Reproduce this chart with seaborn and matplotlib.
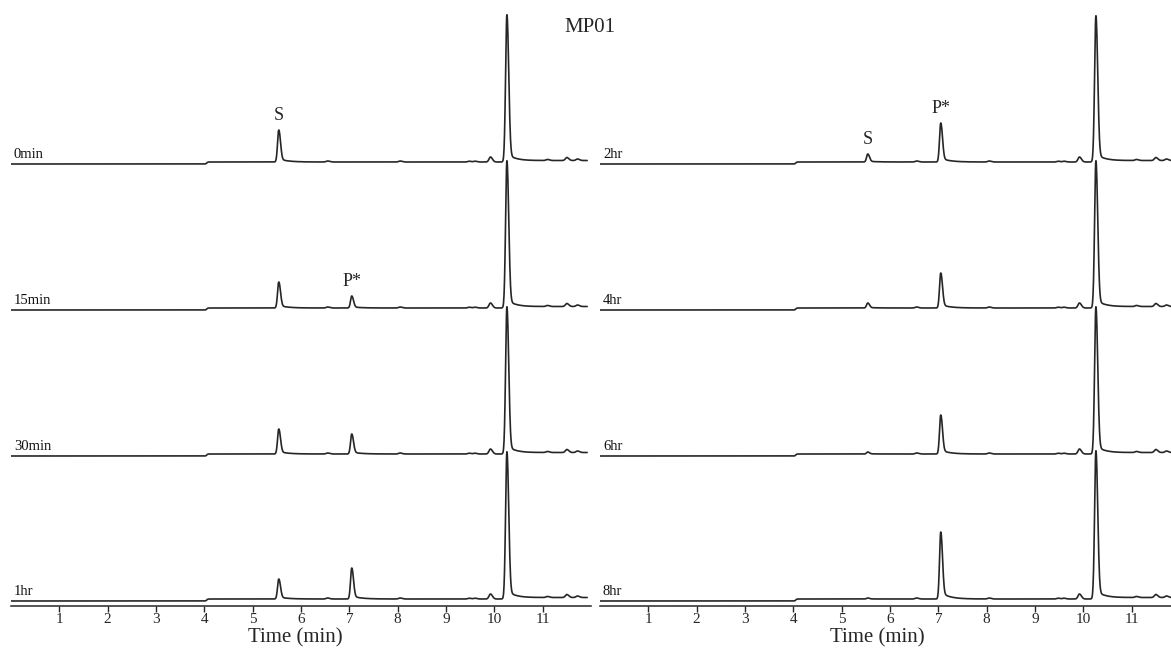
import numpy as np
import pandas as pd
import matplotlib
matplotlib.use("Agg")
import matplotlib.pyplot as plt
import seaborn as sns

sns.set_theme(style="white")
plt.rcParams["font.family"] = ["Liberation Serif", "DejaVu Serif"]

# Sampling times (the chromatogram time axis)
t = np.linspace(0.0, 11.92, 2400)

# Sample labels, top to bottom in each panel
labels_left = ["0min", "15min", "30min", "1hr"]
labels_right = ["2hr", "4hr", "6hr", "8hr"]

# Retention times (min)
rt_s = 5.54
rt_p = 7.05
rt_main = 10.26

# Peak heights (mAU) per sample, same order as the labels
s_left = [32, 26, 25, 20]
p_left = [0, 12, 20, 31]
main_left = [147, 147, 147, 147]
s_right = [8, 5, 2, 1]
p_right = [39, 35, 39, 67]
main_right = [146, 147, 147, 148]

# Small impurity peaks common to all runs
minor_rt = [6.55, 8.05, 9.48, 9.60, 9.92, 11.10, 11.50, 11.72]
minor_h = [1.0, 1.0, 0.8, 0.8, 5.0, 1.0, 3.0, 1.5]

# Vertical offsets of the stacked traces (top trace first)
offsets = [437, 291, 145, 0]


def peak(x, x0, h, sl=0.025, sr=0.034, tail=0.10, tau=0.18):
    y = np.where(x < x0, np.exp(-0.5 * ((x - x0) / sl) ** 2),
                 np.exp(-0.5 * ((x - x0) / sr) ** 2))
    y = y + np.where(x > x0, tail * np.exp(-(x - x0) / tau) * (1 - np.exp(-((x - x0) / 0.03) ** 2)), 0)
    return h * y / y.max()


def trace(h_s, h_p, h_main):
    base = 2.0 / (1 + np.exp(-(t - 4.05) / 0.01))
    base = base + 1.5 / (1 + np.exp(-(t - 10.35) / 0.05))
    y = base + peak(t, rt_main, h_main, sl=0.027, sr=0.036, tail=0.06, tau=0.14)
    if h_s:
        y = y + peak(t, rt_s, h_s)
    if h_p:
        y = y + peak(t, rt_p, h_p)
    for r, h in zip(minor_rt, minor_h):
        y = y + peak(t, r, h, sl=0.03, sr=0.04, tail=0.0)
    return y


def build(labels, s_h, p_h, m_h):
    frames = []
    for lab, off, a, b, c in zip(labels, offsets, s_h, p_h, m_h):
        frames.append(pd.DataFrame({"time": t, "signal": trace(a, b, c) + off, "sample": lab}))
    return pd.concat(frames, ignore_index=True)


df_left = build(labels_left, s_left, p_left, main_left)
df_right = build(labels_right, s_right, p_right, main_right)

W, H = 1171, 649
fig = plt.figure(figsize=(W / 100, H / 100), dpi=100)
ax_l = fig.add_axes([11 / W, (H - 606) / H, 580 / W, 606 / H])
ax_r = fig.add_axes([600 / W, (H - 606) / H, 580 / W, 606 / H])

line_color = "#262626"
for ax, df, labels, lx in [(ax_l, df_left, labels_left, 0.49), (ax_r, df_right, labels_right, 0.478)]:
    sns.lineplot(data=df, x="time", y="signal", units="sample", estimator=None,
                 color=line_color, linewidth=1.2, ax=ax, legend=False)
    ax.set_xlim(0, 12)
    ax.set_ylim(-5, 601)
    for s in ["top", "right", "left"]:
        ax.spines[s].set_visible(False)
    ax.spines["bottom"].set_color(line_color)
    ax.spines["bottom"].set_linewidth(1.1)
    ax.set_yticks([])
    ax.set_xticks(range(1, 12))
    ax.set_xticklabels([str(i) for i in range(1, 12)])
    ax.tick_params(axis="x", direction="out", length=4, width=1.0, color=line_color,
                   labelsize=11, pad=1, bottom=True)
    ax.set_xlabel("Time (min)", fontsize=15)
    ax.xaxis.set_label_coords(lx, -0.036)
    ax.set_ylabel("")
    for lab, off in zip(labels, offsets):
        ax.text(0.06, off + 3, lab, fontsize=10.5, ha="left", va="bottom", color="#111")

# Peak annotations
ax_l.text(rt_s, offsets[0] + 2 + s_left[0] + 6, "S", fontsize=13, ha="center", va="bottom")
ax_l.text(rt_p, offsets[1] + 2 + p_left[1] + 6, "P*", fontsize=13, ha="center", va="bottom")
ax_r.text(rt_s, offsets[0] + 2 + s_right[0] + 6, "S", fontsize=13, ha="center", va="bottom")
ax_r.text(rt_p, offsets[0] + 2 + p_right[0] + 6, "P*", fontsize=13, ha="center", va="bottom")

fig.text(590 / W, 1 - 27 / H, "MP01", fontsize=15, ha="center", va="center")

fig.savefig("out.png", dpi=100)
